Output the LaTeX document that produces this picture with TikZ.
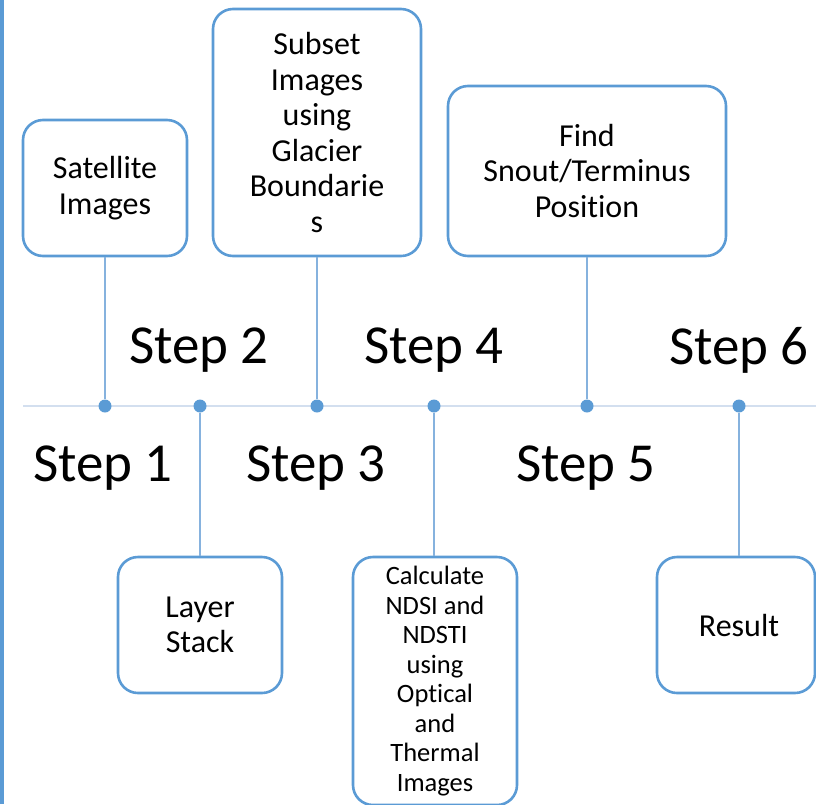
\documentclass[tikz,border=0pt]{standalone}
\usepackage{fontspec}
\setmainfont{Carlito}[Ligatures=NoCommon]
\definecolor{accent}{HTML}{5B9BD5}
\definecolor{linkblue}{HTML}{86B2DE}
\definecolor{axisblue}{HTML}{D3DFEF}
\begin{document}
\begin{tikzpicture}[x=1pt,y=-1pt,
  stepbox/.style={draw=accent,line width=2.6pt,rounded corners=20pt,fill=white,
    align=center,inner sep=0pt,font=\fontsize{32}{35.5}\selectfont},
  smallbox/.style={stepbox,font=\fontsize{26.5}{29.5}\selectfont},
  steplabel/.style={font=\fontsize{55}{60}\selectfont,inner sep=0pt},
  dot/.style={circle,fill=accent,minimum size=13pt,inner sep=0pt},
  link/.style={draw=linkblue,line width=1.6pt}]
\useasboundingbox (0,0) rectangle (816,804);
% left accent bar
\fill[accent] (0,0) rectangle (4,804);
% timeline axis
\coordinate (axL) at (23,406);
\coordinate (axR) at (816,406);
\draw[axisblue,line width=2.6pt] (axL) -- (axR);
% milestone dots
\node[dot] (d1) at (105,406) {};
\node[dot] (d2) at (200,406) {};
\node[dot] (d3) at (317,406) {};
\node[dot] (d4) at (434,406) {};
\node[dot] (d5) at (587,406) {};
\node[dot] (d6) at (739,406) {};
% boxes above the axis
\node[stepbox,minimum width=164pt,minimum height=136pt] (sat) at (105,188) {Satellite\\Images};
\node[stepbox,minimum width=208pt,minimum height=247pt] (sub) at (317,132.5) {Subset\\Images\\using\\Glacier\\Boundarie\\s};
\node[stepbox,minimum width=278pt,minimum height=170pt] (snout) at (587,171) {Find\\Snout/Terminus\\Position};
% boxes below the axis
\node[stepbox,minimum width=164pt,minimum height=136pt] (layer) at (200,625) {Layer\\Stack};
\node[smallbox,minimum width=164pt,minimum height=248pt] (ndsi) at (435,681) {Calculate\\NDSI and\\NDSTI\\using\\Optical\\and\\Thermal\\Images};
\node[stepbox,minimum width=158pt,minimum height=136pt,text width=150pt] (res) at (736,625) {\hspace*{6pt}Result};
% connectors
\draw[link] (sat.south) -- (d1.north);
\draw[link] (sub.south) -- (d3.north);
\draw[link] (snout.south) -- (d5.north);
\draw[link] (d2.south) -- (layer.north -| d2);
\draw[link] (d4.south) -- (ndsi.north -| d4);
\draw[link] (d6.south) -- (res.north -| d6);
% step labels
\node[steplabel] (s1) at (103,468) {Step 1};
\node[steplabel] (s2) at (199,350) {Step 2};
\node[steplabel] (s3) at (316,468) {Step 3};
\node[steplabel] (s4) at (434,350) {Step 4};
\node[steplabel] (s5) at (586,468) {Step 5};
\node[steplabel] (s6) at (739,350) {Step 6};
\end{tikzpicture}
\end{document}
